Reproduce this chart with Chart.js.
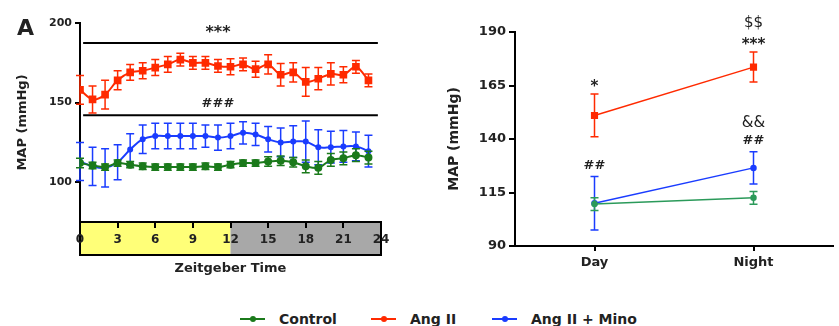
<!DOCTYPE html>
<html lang="en">
<head>
<meta charset="UTF-8">
<title>MAP - Zeitgeber Time</title>
<style>
    body { margin: 0; background: #fff; font-family: "DejaVu Sans", sans-serif; }
    #wrap { position: relative; width: 839px; height: 326px; overflow: hidden; }
    #leftBox { position: absolute; left: 0; top: 0; width: 400px; height: 290px; }
    #rightBox { position: absolute; left: 400px; top: 0; width: 439px; height: 290px; }
    .item { position: absolute; top: 309px; height: 20px; display: flex; align-items: center; font-size: 14px; font-weight: bold; color: #222; }
    .swatch { position: relative; width: 25px; height: 2px; margin-right: 14px; }
    .swatch i { position: absolute; left: 10px; top: -2px; width: 6px; height: 6px; border-radius: 3px; }
</style>
</head>
<body>
<div id="wrap">
    <div id="leftBox"><canvas id="leftChart"></canvas></div>
    <div id="rightBox"><canvas id="rightChart"></canvas></div>
    <div class="item" style="left:240px"><span class="swatch" style="background:#1b7a1b"><i style="background:#1b7a1b"></i></span>Control</div>
    <div class="item" style="left:371px"><span class="swatch" style="background:#ff2a00"><i style="background:#ff2a00"></i></span>Ang II</div>
    <div class="item" style="left:492px"><span class="swatch" style="background:#1a3cff"><i style="background:#1a3cff"></i></span>Ang II + Mino</div>
</div>

<script src="https://cdn.jsdelivr.net/npm/chart.js"></script>
<script>
    // left panel: hourly MAP over 24 h
    const hours = [0,1,2,3,4,5,6,7,8,9,10,11,12,13,14,15,16,17,18,19,20,21,22,23];
    const control    = [112,110.5,109.5,112,111,110,109.5,109.5,109.5,109.5,110,109.5,111,112,112,113,113.5,112.5,110,109,114,115,117,115.5];
    const controlErr = [3,2,2,2,2,2,2,2,2,2,2,2,2,2,2,3,3,3,4,4,4,4,4,4];
    const angII      = [158,152,155,164,169,170,172,174,177,175,175,173,172.5,174,171,174,167.5,169,163,165,168,167.5,172.5,164];
    const angIIErr   = [9,8.5,9,6,5,5,5,5,4,4,4,4,5,4,5,6,7,6,9,7,7,5,4,4];
    const angMino    = [113,110,109,112.5,120.5,127,129,129,129,129,129,128,129,131,130,127,125,125.5,125.5,122,122,122.5,122.5,119.5];
    const angMinoErr = [12,12,12,11,10,9,8,8,8,8,7,8,8,7,7,8,9,10,13,11,10,10,9,10];
    const hourTicks  = [0,3,6,9,12,15,18,21,24];
    const leftYTicks = [100,150,200];
    const sigLines   = [
        { from: 0.25, to: 23.75, y: 187.5, text: '***' },
        { from: 0.25, to: 23.75, y: 142, text: '###' }
    ];

    // right panel: day / night averages
    const periods       = ['Day', 'Night'];
    const controlDN     = [109.6, 112.5];
    const controlDNErr  = [3, 3];
    const angIIDN       = [151, 173.6];
    const angIIDNErr    = [10, 7];
    const angMinoDN     = [110, 126.5];
    const angMinoDNErr  = [12.5, 7.5];
    const rightYTicks   = [90, 115, 140, 165, 190];
    const angIIMarks    = [['*'], ['***', '$$']];
    const angMinoMarks  = [['##'], ['##', '&&']];

    const RED = '#ff2a00', BLUE = '#1a3cff', GREEN = '#1b7a1b', GREEN2 = '#2b9a5a';
    const FONT = '"DejaVu Sans", sans-serif';
    Chart.defaults.font.family = FONT;
    Chart.defaults.color = '#222';

    // error bars, drawn right after each dataset so stacking order is kept
    const errorBars = {
        id: 'errorBars',
        afterDatasetDraw(chart, args) {
            const ds = chart.data.datasets[args.index];
            if (!ds.errors) return;
            const y = chart.scales.y, ctx = chart.ctx;
            ctx.save();
            ctx.strokeStyle = ds.borderColor;
            ctx.lineWidth = ds.errWidth || 1.5;
            args.meta.data.forEach((pt, i) => {
                const v = ds.data[i].y !== undefined ? ds.data[i].y : ds.data[i];
                const top = y.getPixelForValue(v + ds.errors[i]);
                const bot = y.getPixelForValue(v - ds.errors[i]);
                const cap = ds.capWidth || 4;
                ctx.beginPath();
                ctx.moveTo(pt.x, top); ctx.lineTo(pt.x, bot);
                ctx.moveTo(pt.x - cap, top); ctx.lineTo(pt.x + cap, top);
                ctx.moveTo(pt.x - cap, bot); ctx.lineTo(pt.x + cap, bot);
                ctx.stroke();
            });
            ctx.restore();
        }
    };

    // light / dark bar under the time axis, plus panel letter and significance lines
    const leftDecor = {
        id: 'leftDecor',
        beforeDraw(chart) {
            const { ctx, chartArea } = chart;
            const x = chart.scales.x;
            const x0 = x.getPixelForValue(0), x12 = x.getPixelForValue(12), x24 = x.getPixelForValue(24);
            const top = chartArea.bottom, h = 33;
            ctx.save();
            ctx.fillStyle = '#ffff78';
            ctx.fillRect(x0, top, x12 - x0, h);
            ctx.fillStyle = '#a8a8a8';
            ctx.fillRect(x12, top, x24 - x12, h);
            ctx.strokeStyle = '#000';
            ctx.lineWidth = 2;
            ctx.strokeRect(x0, top, x24 - x0, h);
            ctx.restore();
        },
        afterDraw(chart) {
            const { ctx } = chart;
            const x = chart.scales.x, y = chart.scales.y;
            ctx.save();
            ctx.fillStyle = '#222';
            ctx.font = 'bold 22px ' + FONT;
            ctx.textBaseline = 'middle';
            ctx.fillText('A', 17, 29);
            ctx.strokeStyle = '#000';
            ctx.lineWidth = 2;
            ctx.textAlign = 'center';
            sigLines.forEach(s => {
                const py = y.getPixelForValue(s.y);
                ctx.beginPath();
                ctx.moveTo(x.getPixelForValue(s.from), py);
                ctx.lineTo(x.getPixelForValue(s.to), py);
                ctx.stroke();
                const mid = x.getPixelForValue(11);
                if (s.text === '***') {
                    ctx.font = 'bold 16px ' + FONT;
                    ctx.fillText(s.text, mid, py - 10);
                } else {
                    ctx.font = 'bold 13px ' + FONT;
                    ctx.fillText(s.text, mid, py - 12);
                }
            });
            ctx.restore();
        }
    };

    // significance marks stacked above the error bars
    const rightMarks = {
        id: 'rightMarks',
        afterDraw(chart) {
            const { ctx } = chart;
            const y = chart.scales.y;
            ctx.save();
            ctx.fillStyle = '#222';
            ctx.textAlign = 'center';
            ctx.textBaseline = 'middle';
            chart.data.datasets.forEach((ds, di) => {
                if (!ds.marks) return;
                const meta = chart.getDatasetMeta(di);
                ds.marks.forEach((list, i) => {
                    let py = y.getPixelForValue(ds.data[i] + ds.errors[i]) - 11;
                    list.forEach(t => {
                        const star = t.indexOf('*') >= 0;
                        ctx.font = star ? 'bold 15px ' + FONT : (t === '##' ? 'bold 13px ' : '15px ') + FONT;
                        ctx.fillText(t, meta.data[i].x, star ? py + 4 : py);
                        py -= 18;
                    });
                });
            });
            ctx.restore();
        }
    };

    const axisGrid = len => ({ drawOnChartArea: false, tickLength: len, color: '#000', lineWidth: 2 });
    const axisBorder = { color: '#000', width: 2 };

    new Chart(document.getElementById('leftChart'), {
        type: 'line',
        data: {
            datasets: [
                { label: 'Control', data: hours.map((h, i) => ({ x: h, y: control[i] })), errors: controlErr,
                  borderColor: GREEN, backgroundColor: GREEN, borderWidth: 2, pointRadius: 3, tension: 0.3 },
                { label: 'Ang II', data: hours.map((h, i) => ({ x: h, y: angII[i] })), errors: angIIErr,
                  borderColor: RED, backgroundColor: RED, borderWidth: 2, pointStyle: 'rect', pointRadius: 4, tension: 0.3 },
                { label: 'Ang II + Mino', data: hours.map((h, i) => ({ x: h, y: angMino[i] })), errors: angMinoErr,
                  borderColor: BLUE, backgroundColor: BLUE, borderWidth: 2, pointRadius: 2, tension: 0.4 }
            ]
        },
        options: {
            responsive: true,
            maintainAspectRatio: false,
            animation: false,
            layout: { padding: { left: 0, top: 23, right: 19, bottom: 8 } },
            plugins: { legend: { display: false }, tooltip: { enabled: false } },
            scales: {
                x: {
                    type: 'linear', min: 0, max: 24,
                    afterBuildTicks: s => { s.ticks = hourTicks.map(v => ({ value: v })); },
                    afterFit: s => { s.height = 60; },
                    grid: axisGrid(6),
                    border: axisBorder,
                    ticks: { font: { size: 12, weight: 'bold' }, padding: 5, maxRotation: 0, autoSkip: false },
                    title: { display: true, text: 'Zeitgeber Time', font: { size: 13, weight: 'bold' }, padding: { top: 0, bottom: 6 } }
                },
                y: {
                    min: 75, max: 200,
                    afterBuildTicks: s => { s.ticks = leftYTicks.map(v => ({ value: v })); },
                    afterFit: s => { s.width = 80; },
                    grid: axisGrid(5),
                    border: axisBorder,
                    ticks: { font: { size: 11, weight: 'bold' }, padding: 3 },
                    title: { display: true, text: 'MAP (mmHg)', font: { size: 13, weight: 'bold' }, padding: { top: 15 } }
                }
            }
        },
        plugins: [errorBars, leftDecor]
    });

    new Chart(document.getElementById('rightChart'), {
        type: 'line',
        data: {
            labels: periods,
            datasets: [
                { label: 'Control', data: controlDN, errors: controlDNErr,
                  borderColor: GREEN2, backgroundColor: GREEN2, borderWidth: 1.5, pointRadius: 2.5 },
                { label: 'Ang II', data: angIIDN, errors: angIIDNErr, marks: angIIMarks,
                  borderColor: RED, backgroundColor: RED, borderWidth: 1.5, pointStyle: 'rect', pointRadius: 4 },
                { label: 'Ang II + Mino', data: angMinoDN, errors: angMinoDNErr, marks: angMinoMarks,
                  borderColor: BLUE, backgroundColor: BLUE, borderWidth: 1.5, pointRadius: 2.5 }
            ]
        },
        options: {
            responsive: true,
            maintainAspectRatio: false,
            animation: false,
            layout: { padding: { left: 0, top: 32, right: 6, bottom: 4 } },
            plugins: { legend: { display: false }, tooltip: { enabled: false } },
            scales: {
                x: {
                    type: 'category', offset: true,
                    afterFit: s => { s.height = 40; },
                    grid: Object.assign(axisGrid(5), { offset: false }),
                    border: axisBorder,
                    ticks: { font: { size: 13, weight: 'bold' }, padding: 4 }
                },
                y: {
                    min: 90, max: 190,
                    afterBuildTicks: s => { s.ticks = rightYTicks.map(v => ({ value: v })); },
                    afterFit: s => { s.width = 115; },
                    grid: axisGrid(6),
                    border: axisBorder,
                    ticks: { font: { size: 13, weight: 'bold' }, padding: 3 },
                    title: { display: true, text: 'MAP (mmHg)', font: { size: 14, weight: 'bold' }, padding: { top: 46 } }
                }
            }
        },
        plugins: [errorBars, rightMarks]
    });
</script>
</body>
</html>
